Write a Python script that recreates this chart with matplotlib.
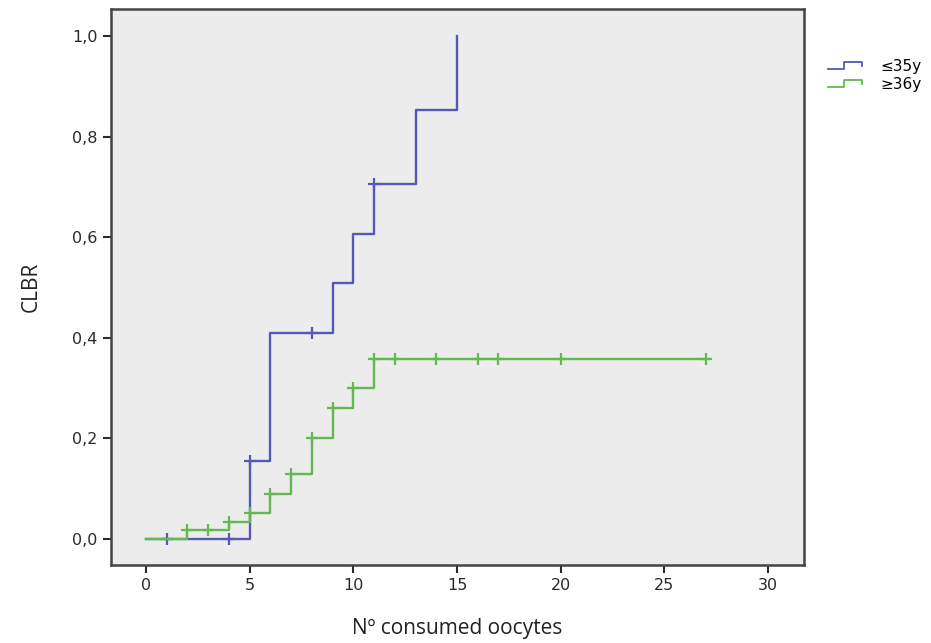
import matplotlib.pyplot as plt
from matplotlib.legend_handler import HandlerLine2D
from matplotlib.lines import Line2D

# Cumulative live birth rate by number of consumed oocytes (Kaplan-Meier style)
young_t = [0, 5, 6, 9, 10, 11, 13, 15]
young_v = [0.0, 0.155, 0.41, 0.508, 0.606, 0.705, 0.853, 1.0]
young_cens = [1, 4, 5, 8, 11]

old_t = [0, 2, 4, 5, 6, 7, 8, 9, 10, 11, 27]
old_v = [0.0, 0.017, 0.034, 0.052, 0.09, 0.13, 0.2, 0.26, 0.3, 0.357, 0.357]
old_cens = [2, 3, 4, 5, 6, 7, 8, 9, 10, 11, 12, 14, 16, 17, 20, 27]

labels = ["\u226435y", "\u226536y"]
x_ticks = [0, 5, 10, 15, 20, 25, 30]
y_ticks = [0.0, 0.2, 0.4, 0.6, 0.8, 1.0]

BLUE = "#5558b6"
GREEN = "#62b94f"


def value_at(t, times, vals):
    v = vals[0]
    for ti, vi in zip(times, vals):
        if ti <= t:
            v = vi
    return v


class StepHandler(HandlerLine2D):
    # draws the little step symbol that SPSS uses in KM legends
    def create_artists(self, legend, orig_handle, xdescent, ydescent,
                       width, height, fontsize, trans):
        w, h = width, height
        xs = [-xdescent, -xdescent + 0.45 * w, -xdescent + 0.45 * w,
              -xdescent + w, -xdescent + w]
        ys = [0.15 * h, 0.15 * h, 0.85 * h, 0.85 * h, 0.45 * h]
        ln = Line2D(xs, ys, color=orig_handle.get_color(), lw=1.3)
        ln.set_transform(trans)
        return [ln]


fig = plt.figure(figsize=(9.31, 6.43), dpi=100)
ax = fig.add_axes([0.1192, 0.1213, 0.7444, 0.8647])
ax.set_facecolor("#ececec")

h1, = ax.step(young_t, young_v, where="post", color=BLUE, lw=1.7)
ax.plot(young_cens, [value_at(t, young_t, young_v) for t in young_cens],
        ls="none", marker="+", ms=9, mew=1.6, color=BLUE)

h2, = ax.step(old_t, old_v, where="post", color=GREEN, lw=1.7)
ax.plot(old_cens, [value_at(t, old_t, old_v) for t in old_cens],
        ls="none", marker="+", ms=9, mew=1.6, color=GREEN)

ax.set_xlim(-1.69, 31.74)
ax.set_ylim(-0.0517, 1.0537)
ax.set_xticks(x_ticks)
ax.set_yticks(y_ticks)
ax.set_yticklabels([f"{v:.1f}".replace(".", ",") for v in y_ticks])
ax.tick_params(direction="out", length=6, width=1.5, labelsize=11.5,
               colors="#2a2a2a")
for sp in ax.spines.values():
    sp.set_linewidth(1.8)
    sp.set_color("#444444")

ax.set_xlabel("N\u00ba consumed oocytes", fontsize=15, labelpad=18,
              family="Open Sans", color="#222222")
ax.set_ylabel("CLBR", fontsize=15, labelpad=22, family="Open Sans",
              color="#222222")

fig.legend([h1, h2], labels, loc="upper left", bbox_to_anchor=(0.875, 0.93),
           frameon=False, fontsize=11, handlelength=2.2, handletextpad=1.2,
           labelspacing=0.2, handler_map={Line2D: StepHandler()})

fig.savefig("out.png", dpi=100)
